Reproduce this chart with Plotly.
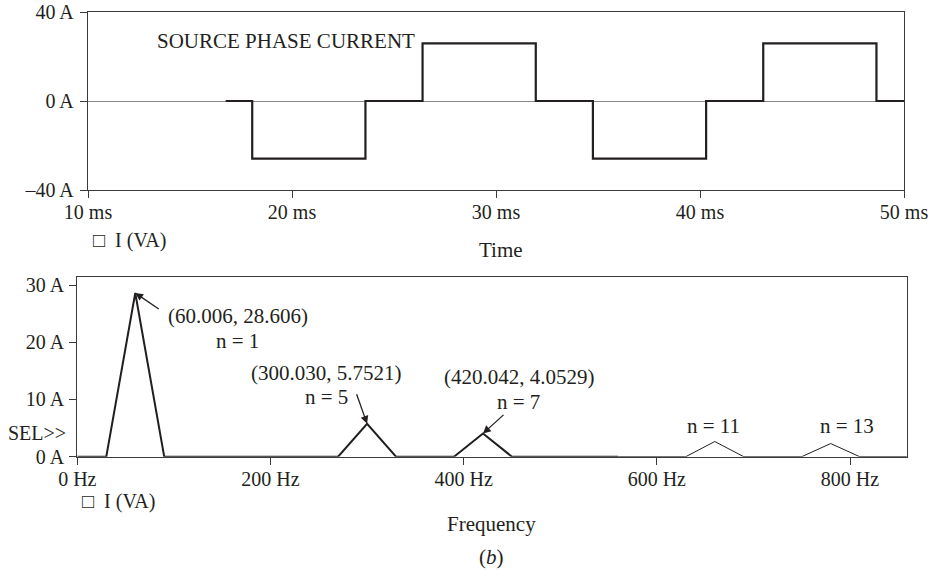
import plotly.graph_objects as go

# ---------------- data ----------------
# Top: source phase current (time in ms, current in A), step ("hv") waveform
time_ms = [16.75, 18.05, 23.6, 26.4, 31.95, 34.75, 40.3, 43.1, 48.65, 50.0]
current_a = [0, -25.9, 0, 25.9, 0, -25.9, 0, 25.9, 0, 0]

# Bottom: FFT spectrum (Hz, A) - low harmonics (bold) and high harmonics (thin)
freq_low = [0, 30, 60.006, 90, 270, 300.030, 330, 390, 420.042, 450, 560]
amp_low = [0, 0, 28.606, 0, 0, 5.7521, 0, 0, 4.0529, 0, 0]
freq_high = [560, 630, 660, 690, 750, 780, 810, 860]
amp_high = [0, 0, 2.65, 0, 0, 2.3, 0, 0]

top_xticks = [10, 20, 30, 40, 50]
top_xtext = ["10 ms", "20 ms", "30 ms", "40 ms", "50 ms"]
top_yticks = [-40, 0, 40]
top_ytext = ["\u201340 A", "0 A", "40 A"]
bot_xticks = [0, 200, 400, 600, 800]
bot_xtext = ["0 Hz", "200 Hz", "400 Hz", "600 Hz", "800 Hz"]
bot_yticks = [0, 10, 20, 30]
bot_ytext = ["0 A", "10 A", "20 A", "30 A"]

peak_labels = ["(60.006, 28.606)", "(300.030, 5.7521)", "(420.042, 4.0529)"]
harm_labels = ["n = 1", "n = 5", "n = 7", "n = 11", "n = 13"]

# ---------------- layout helpers ----------------
W, H = 933, 570
FONT = "Liberation Serif, Times New Roman, serif"
INK = "#231f20"
FS_TICK = 20
FS = 21


def px(x):
    return x / W


def py(y):
    return 1 - y / H


fig = go.Figure()
fig.add_trace(go.Scatter(x=time_ms, y=current_a, mode="lines", line=dict(shape="hv", color=INK, width=2.2),
                         xaxis="x", yaxis="y", showlegend=False, hoverinfo="skip"))
fig.add_trace(go.Scatter(x=freq_low, y=amp_low, mode="lines", line=dict(color=INK, width=2),
                         xaxis="x2", yaxis="y2", showlegend=False, hoverinfo="skip"))
fig.add_trace(go.Scatter(x=freq_high, y=amp_high, mode="lines", line=dict(color=INK, width=1),
                         xaxis="x2", yaxis="y2", showlegend=False, hoverinfo="skip"))

axis_common = dict(showgrid=False, showline=True, mirror=True, linecolor="#3a3a3a", linewidth=1.4,
                   ticks="outside", ticklen=7, tickwidth=1.2, tickcolor="#3a3a3a", automargin=False,
                   tickfont=dict(family=FONT, size=FS_TICK, color=INK), fixedrange=True)

fig.update_layout(
    width=W, height=H, margin=dict(l=0, r=0, t=0, b=0, autoexpand=False),
    paper_bgcolor="white", plot_bgcolor="white",
    xaxis=dict(domain=[px(88), px(904)], range=[10, 50], tickvals=top_xticks, ticktext=top_xtext,
               anchor="y", zeroline=False, ticklabelstandoff=-3, **axis_common),
    yaxis=dict(domain=[py(190), py(12)], range=[-40, 40], tickvals=top_yticks, ticktext=top_ytext,
               anchor="x", zeroline=True, zerolinecolor="#8a8a8a", zerolinewidth=1,
               ticklabelstandoff=2, **axis_common),
    xaxis2=dict(domain=[px(77.3), px(906.7)], range=[0, 858.7], tickvals=bot_xticks, ticktext=bot_xtext,
                anchor="y2", zeroline=False, ticklabelstandoff=-3, **axis_common),
    yaxis2=dict(domain=[py(456.7), py(276.7)], range=[0, 31.45], tickvals=bot_yticks, ticktext=bot_ytext,
                anchor="x2", zeroline=False, ticklabelstandoff=1, **axis_common),
)

ann = []


def text(x, y, s, xanchor="center", size=FS):
    ann.append(dict(x=px(x), y=py(y), xref="paper", yref="paper", text=s, showarrow=False,
                    xanchor=xanchor, yanchor="middle", font=dict(family=FONT, size=size, color=INK)))


text(286, 41, "SOURCE PHASE CURRENT")
text(91, 240, "\u25a1&nbsp;&nbsp;I (VA)", xanchor="left", size=FS_TICK)
text(501, 250, "Time")
text(80, 501, "\u25a1&nbsp;&nbsp;I (VA)", xanchor="left", size=FS_TICK)
text(492, 524, "Frequency")
text(492, 557, "(<i>b</i>)")
text(68, 433, "SEL>>", xanchor="right", size=FS_TICK)

text(237.5, 316, peak_labels[0])
text(237, 341, harm_labels[0])
text(326, 373, peak_labels[1])
text(326, 397, harm_labels[1])
text(519, 377, peak_labels[2])
text(518, 402, harm_labels[2])
text(713, 426, harm_labels[3])
text(847, 426, harm_labels[4])

# arrows pointing at the harmonic peaks
arrow_targets = [(freq_low[2], amp_low[2], 25, 17), (freq_low[5], amp_low[5], -11, -31),
                 (freq_low[8], amp_low[8], 22, -20)]
for fx, fy, ax, ay in arrow_targets:
    ann.append(dict(x=fx, y=fy, xref="x2", yref="y2", ax=ax, ay=ay, text="", showarrow=True,
                    arrowhead=2, arrowsize=1.2, arrowwidth=1.3, arrowcolor=INK, standoff=0))

fig.update_layout(annotations=ann)
fig.write_html("out.html", config={"displayModeBar": False},
               post_script="document.body.style.margin='0';")
